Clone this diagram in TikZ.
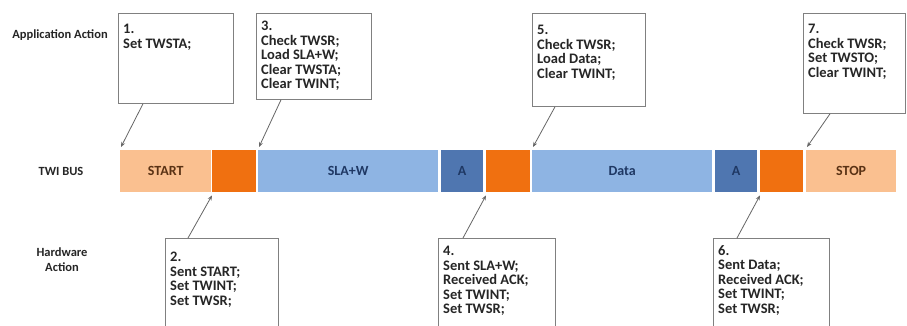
\documentclass[tikz,border=0pt]{standalone}
\usepackage{fontspec}
\setmainfont{Carlito}
\usetikzlibrary{arrows.meta,calc}
\definecolor{lorange}{RGB}{250,192,144}
\definecolor{dorange}{RGB}{240,112,16}
\definecolor{lblue}{RGB}{142,180,227}
\definecolor{dblue}{RGB}{79,118,176}
\definecolor{bordergray}{RGB}{128,128,128}
\definecolor{txtblue}{RGB}{31,56,100}
\definecolor{txtbrown}{RGB}{90,50,20}
\begin{document}
\begin{tikzpicture}[x=1pt,y=-1pt,
 seg/.style={draw=none, anchor=north west, minimum height=42pt, inner sep=0pt, font=\bfseries\fontsize{14}{16}\selectfont},
 abox/.style={draw=bordergray, line width=0.8pt, anchor=north west, inner sep=0pt, fill=white},
 btext/.style={anchor=north west, inner sep=0pt, align=left, font=\bfseries\fontsize{14.5}{14.5}\selectfont, text=black!85},
 lbl/.style={font=\bfseries\fontsize{12.5}{15}\selectfont, align=center, text=black!85},
 ptr/.style={draw=black!60, line width=0.8pt, -{Stealth[length=5pt,width=4pt]}}
]
\clip (0,0) rectangle (907,326);
\fill[white] (0,0) rectangle (907,326);
% labels
\node[lbl] (la) at (60,35) {Application Action};
\node[lbl] (lb) at (61,171) {TWI BUS};
\node[lbl] (lh) at (62,260) {Hardware\\Action};
% bus
\node[seg, fill=lorange, text=txtbrown, minimum width=91pt] (start) at (120,150) {START};
\node[seg, fill=dorange, minimum width=44pt] (o1) at (212,150) {};
\node[seg, fill=lblue, text=txtblue, minimum width=180pt] (sla) at (258,150) {SLA+W};
\node[seg, fill=dblue, text=txtblue, minimum width=42pt] (a1) at (441,150) {A};
\node[seg, fill=dorange, minimum width=44pt] (o2) at (486,150) {};
\node[seg, fill=lblue, text=txtblue, minimum width=180pt] (data) at (532,150) {Data};
\node[seg, fill=dblue, text=txtblue, minimum width=42pt] (a2) at (715,150) {A};
\node[seg, fill=dorange, minimum width=43pt] (o3) at (760,150) {};
\node[seg, fill=lorange, text=txtbrown, minimum width=90pt] (stop) at (806,150) {STOP};
% top boxes
\node[abox, minimum width=115pt, minimum height=90pt] (b1) at (118,13) {};
\node[btext] (t1) at ([xshift=5pt,yshift=-11pt]b1.north west) {1.\\Set TWSTA;};
\node[abox, minimum width=115pt, minimum height=86pt] (b3) at (256,13) {};
\node[btext] (t3) at ([xshift=5pt,yshift=-8pt]b3.north west) {3.\\Check TWSR;\\Load SLA+W;\\Clear TWSTA;\\Clear TWINT;};
\node[abox, minimum width=113pt, minimum height=93pt] (b5) at (532,13) {};
\node[btext] (t5) at ([xshift=5pt,yshift=-12pt]b5.north west) {5.\\Check TWSR;\\Load Data;\\Clear TWINT;};
\node[abox, minimum width=102pt, minimum height=100pt] (b7) at (803,13) {};
\node[btext] (t7) at ([xshift=5pt,yshift=-11pt]b7.north west) {7.\\Check TWSR;\\Set TWSTO;\\Clear TWINT;};
% bottom boxes
\node[abox, minimum width=113pt, minimum height=100pt] (b2) at (165,238) {};
\node[btext] (t2) at ([xshift=5pt,yshift=-14pt]b2.north west) {2.\\Sent START;\\Set TWINT;\\Set TWSR;};
\node[abox, minimum width=117pt, minimum height=100pt] (b4) at (438,238) {};
\node[btext] (t4) at ([xshift=5pt,yshift=-8pt]b4.north west) {4.\\Sent SLA+W;\\Received ACK;\\Set TWINT;\\Set TWSR;};
\node[abox, minimum width=116pt, minimum height=100pt] (b6) at (713,238) {};
\node[btext] (t6) at ([xshift=5pt,yshift=-7pt]b6.north west) {6.\\Sent Data;\\Received ACK;\\Set TWINT;\\Set TWSR;};
% pointers
\draw[ptr] ($(b1.south west)+(25,0)$) -- ([xshift=1pt,yshift=3pt]start.north west);
\draw[ptr] ($(b3.south west)+(25,0)$) -- ([xshift=1pt,yshift=3pt]sla.north west);
\draw[ptr] ($(b5.south west)+(23,0)$) -- ([xshift=1pt,yshift=3pt]data.north west);
\draw[ptr] ($(b7.south west)+(27,0)$) -- ([xshift=1pt,yshift=3pt]stop.north west);
\draw[ptr] ($(b2.north west)+(23,0)$) -- ([yshift=-3pt]o1.south west);
\draw[ptr] ($(b4.north west)+(25,0)$) -- ([yshift=-3pt]o2.south west);
\draw[ptr] ($(b6.north west)+(24,0)$) -- ([yshift=-3pt]o3.south west);
\end{tikzpicture}
\end{document}
